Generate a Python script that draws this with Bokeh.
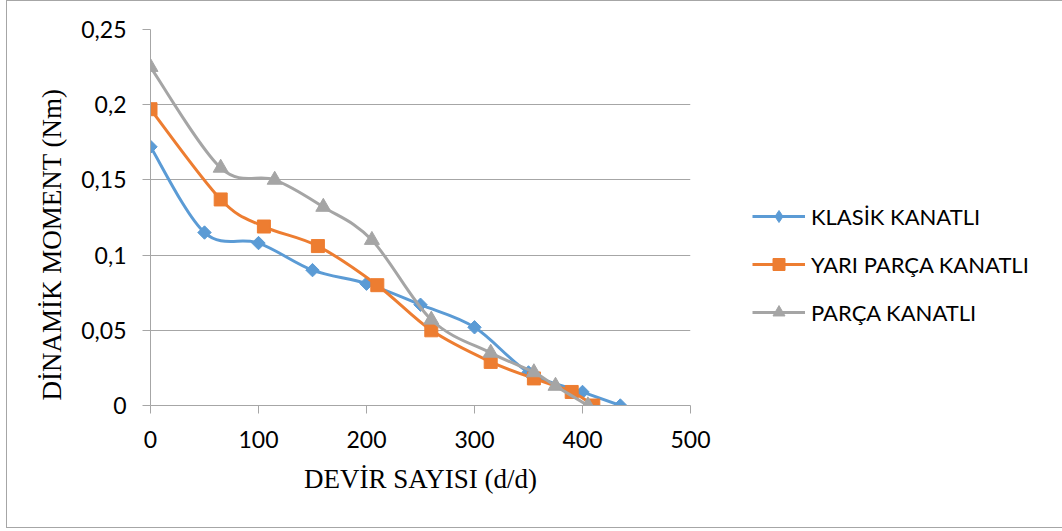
import math
from bokeh.plotting import figure
from bokeh.models import (FixedTicker, Legend, LegendItem, Title, ColumnDataSource)
from bokeh.embed import file_html
from bokeh.resources import INLINE

# ---- data ----
klasik_x = [0, 50, 100, 150, 200, 250, 300, 350, 400, 435]
klasik_y = [0.172, 0.115, 0.108, 0.090, 0.081, 0.067, 0.052, 0.022, 0.009, 0.0]

yari_x = [0, 65, 105, 155, 210, 260, 315, 355, 390, 410]
yari_y = [0.197, 0.137, 0.119, 0.106, 0.080, 0.050, 0.029, 0.018, 0.009, 0.0]

parca_x = [0, 65, 115, 160, 205, 260, 315, 355, 375, 405]
parca_y = [0.225, 0.158, 0.150, 0.132, 0.110, 0.057, 0.035, 0.022, 0.013, 0.0]

series_names = ["KLASİK KANATLI", "YARI PARÇA KANATLI", "PARÇA KANATLI"]
x_ticks = [0, 100, 200, 300, 400, 500]
y_ticks = [0, 0.05, 0.1, 0.15, 0.2, 0.25]
y_tick_labels = ["0", "0,05", "0,1", "0,15", "0,2", "0,25"]
x_title = "DEVİR SAYISI (d/d)"
y_title = "DİNAMİK MOMENT (Nm)"

colors = ["#5b9bd5", "#ed7d31", "#a5a5a5"]
grid_color = "#a6a6a6"
tick_font = "Lato"
title_font = "Liberation Serif"


def smooth(xs, ys):
    n = len(xs)
    d = dict(x0=[], y0=[], x1=[], y1=[], cx0=[], cy0=[], cx1=[], cy1=[])
    for i in range(n - 1):
        a = i - 1 if i > 0 else i
        b = i + 2 if i + 2 < n else i + 1
        d["x0"].append(xs[i]); d["y0"].append(ys[i])
        d["x1"].append(xs[i + 1]); d["y1"].append(ys[i + 1])
        d["cx0"].append(xs[i] + (xs[i + 1] - xs[a]) / 6)
        d["cy0"].append(ys[i] + (ys[i + 1] - ys[a]) / 6)
        d["cx1"].append(xs[i + 1] - (xs[b] - xs[i]) / 6)
        d["cy1"].append(ys[i + 1] - (ys[b] - ys[i]) / 6)
    return ColumnDataSource(d)


p = figure(frame_width=540, frame_height=376,
           min_border_left=143, min_border_right=372,
           min_border_top=28, min_border_bottom=122,
           x_range=(0, 500), y_range=(0, 0.25),
           output_backend="svg", toolbar_location=None)

p.styles = {"margin-left": "6px", "margin-top": "0px",
            "border-left": "1px solid " + grid_color,
            "border-top": "1px solid " + grid_color,
            "border-bottom": "1px solid " + grid_color}

p.background_fill_color = "white"
p.border_fill_color = "white"
p.outline_line_color = None

p.xgrid.grid_line_color = None
p.ygrid.grid_line_color = grid_color
p.ygrid.grid_line_width = 1

p.xaxis.ticker = FixedTicker(ticks=x_ticks)
p.yaxis.ticker = FixedTicker(ticks=y_ticks)
p.yaxis.major_label_overrides = {t: l for t, l in zip(y_ticks, y_tick_labels)}
p.xaxis.major_label_overrides = {t: str(t) for t in x_ticks}

for ax in (p.xaxis[0], p.yaxis[0]):
    ax.axis_line_color = grid_color
    ax.major_tick_line_color = grid_color
    ax.major_tick_out = 8
    ax.major_tick_in = 0
    ax.minor_tick_line_color = None
    ax.major_label_text_font = tick_font
    ax.major_label_text_font_size = "23px"
    ax.major_label_text_color = "black"

p.yaxis.major_label_standoff = 16
p.xaxis.major_label_standoff = 17

p.xaxis.axis_label = x_title
p.xaxis.axis_label_text_font = title_font
p.xaxis.axis_label_text_font_size = "27px"
p.xaxis.axis_label_text_font_style = "normal"
p.xaxis.axis_label_text_color = "black"
p.xaxis.axis_label_standoff = 13

ytitle = Title(text=y_title, align="left", offset=5, standoff=23,
               text_font=title_font, text_font_size="27px",
               text_font_style="normal", text_color="black")
p.add_layout(ytitle, "left")

marker_kw = [dict(marker="square", angle=math.pi / 4, size=9.5),
             dict(marker="square", size=13),
             dict(marker="triangle", size=15)]
legend_markers = ["diamond", "square", "triangle"]

items = []
data = [(klasik_x, klasik_y), (yari_x, yari_y), (parca_x, parca_y)]
nan = float("nan")
for (xs, ys), c, name, mk, lm in zip(data, colors, series_names, marker_kw, legend_markers):
    src = smooth(xs, ys)
    r_line = p.bezier(x0="x0", y0="y0", x1="x1", y1="y1", cx0="cx0", cy0="cy0",
                      cx1="cx1", cy1="cy1", source=src, line_color=c, line_width=3)
    p.scatter(xs, ys, fill_color=c, line_color=c, **mk)
    # legend-only marker glyph (its single point is NaN, so nothing is drawn in the plot)
    r_leg = p.scatter(x=[nan], y=[nan], marker=lm, size=12, fill_color=c, line_color=c)
    items.append(LegendItem(label=name, renderers=[r_line, r_leg]))

legend = Legend(items=items, location=(62, 78), orientation="vertical",
                glyph_width=53, glyph_height=30, label_height=30,
                spacing=18, padding=0, margin=0, label_standoff=6,
                label_text_font=tick_font, label_text_font_size="22px",
                label_text_color="black", background_fill_alpha=0,
                border_line_color=None)
p.add_layout(legend, "right")

open("out.html", "w").write(file_html(p, INLINE))
